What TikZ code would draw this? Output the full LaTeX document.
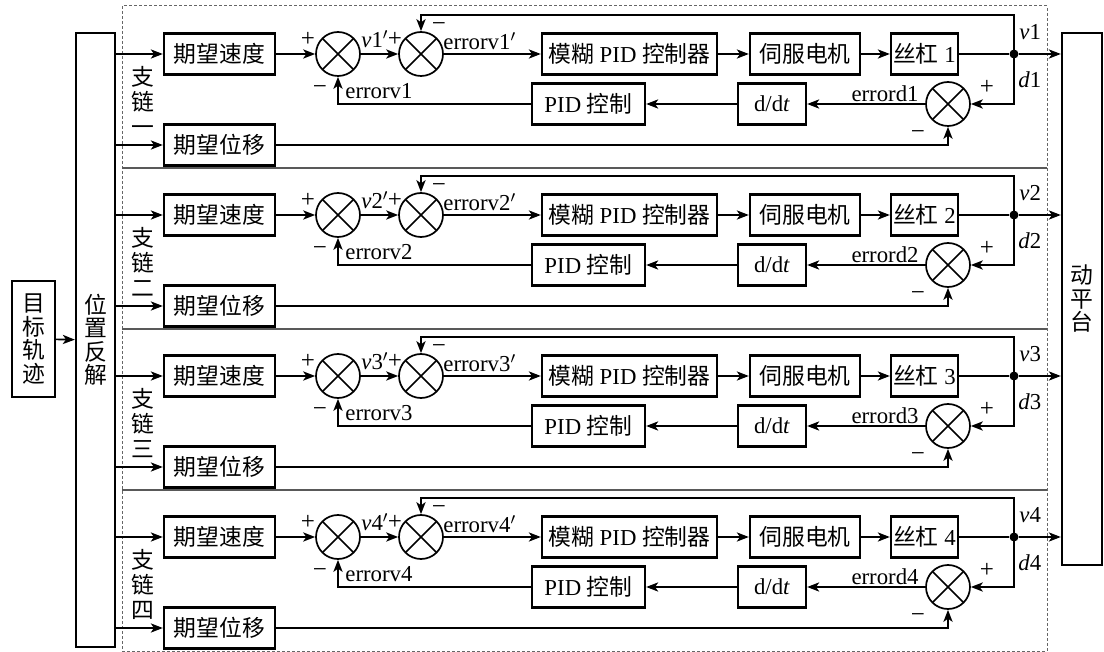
\documentclass[tikz,border=0pt]{standalone}
\usepackage{fontspec}
\setmainfont{Liberation Serif}
\newfontfamily\cjk{Noto Sans CJK SC}
\usepackage{tikz}
\usetikzlibrary{positioning, arrows.meta, calc}
\newcommand{\zh}[1]{{\cjk #1}}
\newcommand{\bodysize}{\fontsize{11.4}{13}\selectfont}

\begin{document}
\begin{tikzpicture}[x=0.5pt, y=-0.5pt, font=\bodysize,
    blk/.style={rectangle, draw, line width=1.2pt, minimum height=20.5pt, inner sep=0.5pt},
    sumc/.style={circle, draw, line width=0.85pt, minimum size=22pt, inner sep=0pt,
        path picture={\draw[line width=0.85pt]
            (path picture bounding box.north west) -- (path picture bounding box.south east)
            (path picture bounding box.north east) -- (path picture bounding box.south west);}},
    arr/.style={-{Stealth[length=6pt, width=4.6pt, inset=1.6pt]}, line width=0.85pt},
    wire/.style={line width=0.85pt},
    sgn/.style={inner sep=0pt, font=\fontsize{12.5}{13}\selectfont},
    vtext/.style={align=center, font=\cjk\fontsize{11.4}{11.75}\selectfont}]
    \useasboundingbox (0,0) rectangle (1104,652);

    % frame of the four chains
    \draw[gray!80!black, dash pattern=on 1.5pt off 1pt, line width=0.5pt] (122,6) rectangle (1047,651);
    \foreach \yy in {168,329,490}
        \draw[gray!70!black, line width=0.7pt] (122,\yy) -- (1047,\yy);

    \node (goal) [blk, vtext, minimum width=21.5pt, minimum height=58pt] at (33.5,339) {目\\标\\轨\\迹};
    \node (inv) [blk, vtext, minimum width=19.5pt, minimum height=307pt] at (95.5,340) {位\\置\\反\\解};
    \node (plat) [blk, vtext, minimum width=20pt, minimum height=266pt] at (1082,299) {动\\平\\台};
    \draw[arr] (goal) -- (inv);

    \foreach \i/\n in {1/一,2/二,3/三,4/四} {
        \pgfmathsetmacro{\y}{54+161*(\i-1)}
        % forward path
        \node (speed\i) [blk, minimum width=55.5pt] at (219.5,\y) {\zh{期望速度}};
        \node (sumv\i) [sumc, right of=speed\i, node distance=59.25pt] {};
        \node (sumvv\i) [sumc, right of=sumv\i, node distance=41.5pt] {};
        \node (fuzzy\i) [blk, minimum width=87.5pt, right of=sumvv\i, node distance=104.25pt] {\zh{模糊} PID \zh{控制器}};
        \node (servo\i) [blk, minimum width=55pt, right of=fuzzy\i, node distance=87.75pt] {\zh{伺服电机}};
        \node (screw\i) [blk, minimum width=33.5pt, right of=servo\i, node distance=59.75pt] {\zh{丝杠} \i};
        \node (dot\i) [circle, fill, inner sep=0pt, minimum size=4.5pt, right of=screw\i, node distance=44.75pt] {};
        \coordinate (top\i) at (1014,\y-39);
        % feedback path
        \node (sumd\i) [sumc] at (948,\y+50) {};
        \node (ddt\i) [blk, minimum width=34pt, left of=sumd\i, node distance=88pt] {d/d\textit{t}};
        \node (pid\i) [blk, minimum width=56.5pt, left of=ddt\i, node distance=91.75pt] {PID \zh{控制}};
        \node (disp\i) [blk, minimum width=55.5pt] at (219.5,\y+91) {\zh{期望位移}};
        \node (lab\i) [vtext, font=\cjk\fontsize{11.4}{12.5}\selectfont] at (143,\y+47) {支\\链\\\n};

        % signs and signal names
        \node (pv\i) [sgn] at ($(sumv\i)+(-30,-15)$) {+};
        \node (mv\i) [sgn] at ($(sumv\i)+(-18,36)$) {−};
        \node (ev\i) [sgn, font=\bodysize, anchor=west] at (345,\y+37) {errorv\i};
        \node (vp\i) [sgn, font=\bodysize, anchor=west] at (361,\y-15) {\textit{v}\i$'$};
        \node (pvv\i) [sgn] at ($(sumvv\i)+(-26,-15)$) {+};
        \node (mvv\i) [sgn] at ($(sumvv\i)+(18,-27)$) {−};
        \node (evv\i) [sgn, font=\bodysize, anchor=west] at (443,\y-13) {errorv\i$'$};
        \node (vl\i) [sgn, font=\bodysize, anchor=west] at (1019,\y-22) {\textit{v}\i};
        \node (dl\i) [sgn, font=\bodysize, anchor=west] at (1018,\y+26) {\textit{d}\i};
        \node (pd\i) [sgn] at ($(sumd\i)+(39,-17)$) {+};
        \node (md\i) [sgn] at ($(sumd\i)+(-30,31)$) {−};
        \node (ed\i) [sgn, font=\bodysize, anchor=east] at (919,\y+40) {errord\i};

        \draw[arr] (inv.east |- speed\i) -- (speed\i);
        \draw[arr] (speed\i) -- (sumv\i);
        \draw[arr] (sumv\i) -- (sumvv\i);
        \draw[arr] (sumvv\i) -- (fuzzy\i);
        \draw[arr] (fuzzy\i) -- (servo\i);
        \draw[arr] (servo\i) -- (screw\i);
        \draw[wire] (screw\i) -- (dot\i);
        \draw[arr] (dot\i) -- (plat.west |- dot\i);
        \draw[arr] (dot\i.center) -- (top\i) -| (sumvv\i.north);
        \draw[arr] (dot\i.center) |- (sumd\i.east);
        \draw[arr] (sumd\i) -- (ddt\i);
        \draw[arr] (ddt\i) -- (pid\i);
        \draw[arr] (pid\i) -| (sumv\i.south);
        \draw[arr] (inv.east |- disp\i) -- (disp\i);
        \draw[arr] (disp\i) -| (sumd\i.south);
    }
\end{tikzpicture}
\end{document}
